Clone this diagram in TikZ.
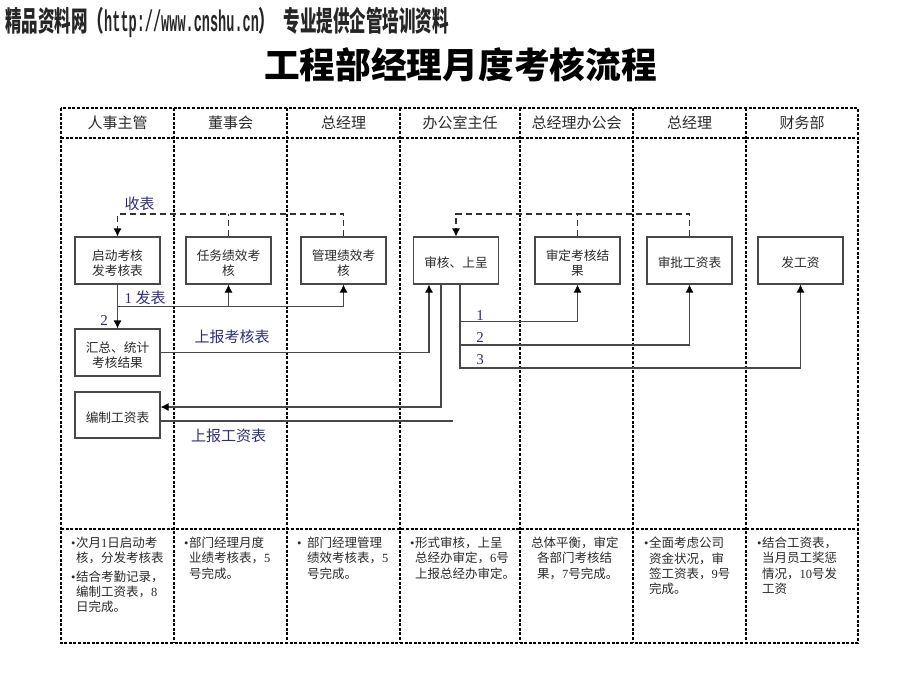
\documentclass[tikz,border=0pt]{standalone}
\usepackage{fontspec}
\usepackage{graphicx}
\setmainfont{Noto Sans CJK SC}
\newfontfamily\latn{Liberation Serif}
\newfontfamily\monof{Liberation Mono}
\usetikzlibrary{arrows.meta}
\newcommand\num[1]{{\latn #1}}
\newcommand\bul{\makebox[5pt][l]{\latn •}}
\newcommand\dn{\rule{0pt}{15.5pt}}
\definecolor{inkc}{HTML}{2A2A2A}
\definecolor{linec}{HTML}{484848}
\definecolor{labc}{HTML}{2F2F78}
\tikzset{
  lane/.style={line width=1.25pt,black,dash pattern=on 3pt off 1.6pt},
  stepbox/.style={draw=linec,line width=1.05pt,fill=white,minimum width=85pt,minimum height=47pt,inner sep=0pt,align=center,text=inkc,font=\fontsize{12.7}{15}\selectfont},
  arr/.style={draw=linec,line width=1.05pt,-{Latex[length=8pt,width=8pt,color=black]}},
  pln/.style={draw=linec,line width=1.05pt},
  dsh/.style={draw=black!80,line width=1.05pt,dash pattern=on 6pt off 4pt},
  darr/.style={dsh,-{Latex[length=8pt,width=8pt,color=black]}},
  head/.style={text=inkc,inner sep=0pt,font=\fontsize{15}{18}\selectfont},
  lab/.style={text=labc,inner sep=0pt,font=\fontsize{15}{18}\selectfont},
  note/.style={anchor=north west,inner sep=0pt,align=left,text=inkc,font=\fontsize{12.5}{15.2}\selectfont},
}
\begin{document}
\begin{tikzpicture}[x=1pt,y=-1pt]
\useasboundingbox (0,0) rectangle (920,690);
\fill[white] (0,0) rectangle (920,690);
% banner and title
\node[inner sep=0pt,anchor=west,xscale=.59,text=black!85,font=\fontsize{28}{30}\selectfont\bfseries] (banner) at (5,22)
  {精品资料网（\scalebox{1}[1.3]{\monof\fontsize{23}{30}\selectfont http://www.cnshu.cn}）\hspace{14pt}专业提供企管培训资料};
\node[inner sep=0pt,font=\fontsize{35.7}{40}\selectfont\bfseries] (title) at (460.5,65) {工程部经理月度考核流程};
% swimlane frame
\draw[lane] (61,108) rectangle (858,643);
\draw[lane] (61,138) -- (858,138);
\draw[lane] (61,529) -- (858,529);
\foreach \x in {174,287,400,520,633,746} \draw[lane] (\x,108) -- (\x,643);
% headers
\node[head] (h1) at (117.5,122.5) {人事主管};
\node[head] (h2) at (230.5,122.5) {董事会};
\node[head] (h3) at (343.5,122.5) {总经理};
\node[head] (h4) at (460,122.5) {办公室主任};
\node[head] (h5) at (576.5,122.5) {总经理办公会};
\node[head] (h6) at (689.5,122.5) {总经理};
\node[head] (h7) at (802,122.5) {财务部};
% boxes
\node[stepbox] (a) at (117.5,260.5) {\dn 启动考核\\发考核表};
\node[stepbox] (b) at (228.5,260.5) {\dn 任务绩效考\\核};
\node[stepbox] (c) at (343.5,260.5) {\dn 管理绩效考\\核};
\node[stepbox] (d) at (456,260.5) {\dn 审核、上呈};
\node[stepbox] (e) at (577.5,260.5) {\dn 审定考核结\\果};
\node[stepbox] (f) at (689.5,260.5) {\dn 审批工资表};
\node[stepbox] (g) at (800.5,260.5) {\dn 发工资};
\node[stepbox] (m) at (117.5,352.5) {\dn 汇总、统计\\考核结果};
\node[stepbox,minimum height=46pt] (p) at (117.5,415) {\dn 编制工资表};
% junctions
\coordinate (ja) at (117.5,214);
\coordinate (jd) at (456,214);
\coordinate (j1) at (117.5,306.5);
\coordinate (t1) at (460,321.5);
\coordinate (t2) at (460,345);
\coordinate (t3) at (460,368);
\coordinate (rj) at (441,407);
\coordinate (end) at (452.5,421);
% dashed returns
\draw[darr] (c.north) |- (ja) -- (a.north);
\draw[dsh] (b.north) -- (b.north |- ja);
\draw[darr] (f.north) |- (jd) -- (d.north);
\draw[dsh] (e.north) -- (e.north |- jd);
% solid flows
\draw[arr] (a.south) -- (m.north);
\draw[arr] (j1) -| (c.south);
\draw[arr] (b.south |- j1) -- (b.south);
\draw[arr] (m.east) -| ([xshift=-27pt]d.south);
\draw[arr] ([xshift=-15pt]d.south) |- (p.east |- rj);
\draw[pln] (p.east |- end) -- (end);
\draw[arr] ([xshift=4pt]d.south) |- (t3) -| (g.south);
\draw[arr] (t1) -| (e.south);
\draw[arr] (t2) -| (f.south);
% labels
\node[lab] (l1) at (139.5,204) {收表};
\node[lab,anchor=west] (l2) at (124.5,298) {\num{1} 发表};
\node[lab] (l3) at (104,321) {\num{2}};
\node[lab] (l4) at (232,336.5) {上报考核表};
\node[lab] (l5) at (228.5,435.5) {上报工资表};
\node[lab] (l6) at (480,316) {\num{1}};
\node[lab] (l7) at (480,338) {\num{2}};
\node[lab] (l8) at (480,360) {\num{3}};
% notes
\node[note] (n1) at (71,537) {\bul 次月\num{1}日启动考\\\hspace*{5pt}核，分发考核表};
\node[note] (n1b) at (71,570.5) {\bul 结合考勤记录，\\\hspace*{5pt}编制工资表，\num{8}\\\hspace*{5pt}日完成。};
\node[note] (n2) at (184,537) {\bul 部门经理月度\\\hspace*{5pt}业绩考核表，\num{5}\\\hspace*{5pt}号完成。};
\node[note] (n3) at (297,537) {\makebox[10pt][l]{\latn •}部门经理管理\\\hspace*{10pt}绩效考核表，\num{5}\\\hspace*{10pt}号完成。};
\node[note] (n4) at (410,537) {\bul 形式审核，上呈\\\hspace*{5pt}总经办审定，\num{6}号\\\hspace*{5pt}上报总经办审定。};
\node[note] (n5) at (531,537) {总体平衡，审定\\\hspace*{6pt}各部门考核结\\\hspace*{6pt}果，\num{7}号完成。};
\node[note] (n6) at (644,537) {\bul 全面考虑公司\\\hspace*{5pt}资金状况，审\\\hspace*{5pt}签工资表，\num{9}号\\\hspace*{5pt}完成。};
\node[note] (n7) at (757,537) {\bul 结合工资表，\\\hspace*{5pt}当月员工奖惩\\\hspace*{5pt}情况，\num{10}号发\\\hspace*{5pt}工资};
\end{tikzpicture}
\end{document}
